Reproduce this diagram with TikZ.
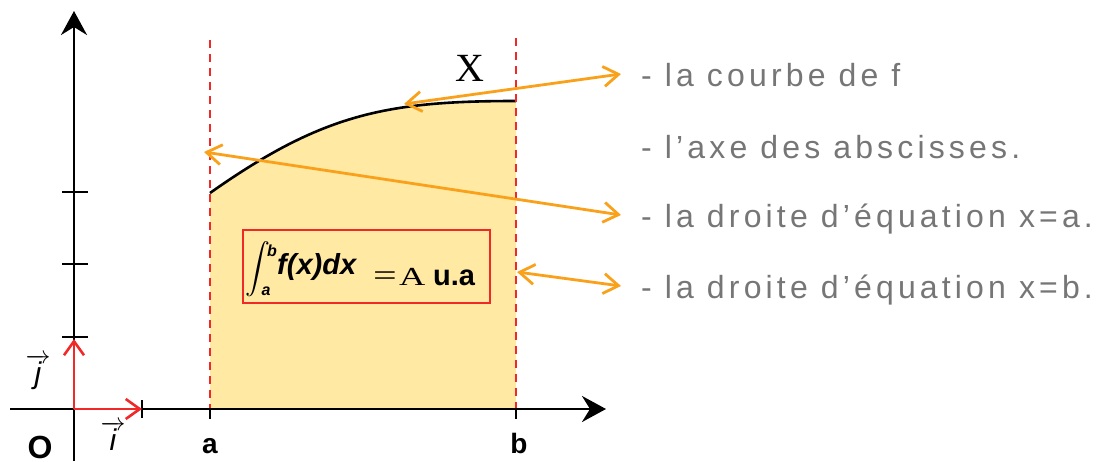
\documentclass[tikz,border=0pt]{standalone}
\usepackage{fontspec}
\usepackage{exscale}
\setmainfont{Liberation Sans}
\newfontfamily\serifA{Liberation Serif}
\newfontfamily\labfont{Liberation Sans}[LetterSpace=13]
\usetikzlibrary{arrows.meta}
\definecolor{orng}{HTML}{F9A11B}
\definecolor{fillY}{HTML}{FFE9A3}
\definecolor{redd}{HTML}{F02828}
\definecolor{txtgray}{HTML}{767676}
\begin{document}
\begin{tikzpicture}[x=1pt,y=-1pt,
  axis/.style={line width=2.6pt, -{Stealth[length=24pt,width=26pt,inset=8pt]}},
  tickline/.style={line width=2.2pt},
  vecarrow/.style={redd, line width=2.6pt, -{Straight Barb[length=14pt,width=20pt]}},
  bound/.style={redd, line width=2.6pt, dash pattern=on 8pt off 6pt},
  oarrow/.style={orng, line width=2.8pt, {Straight Barb[length=15pt,width=20pt]}-{Straight Barb[length=15pt,width=20pt]}},
  lab/.style={anchor=base west, inner sep=0pt, text=txtgray, font=\labfont\fontsize{32}{38}\selectfont},
  axlab/.style={inner sep=0pt, font=\bfseries\fontsize{28}{30}\selectfont},
]
\path[use as bounding box] (0,0) rectangle (1098,461);

% filled area
\fill[fillY] (210,409) -- (210,193) .. controls (322,114) and (386,101) .. (516,101) -- (516,409) -- cycle;
\draw[line width=2.6pt] (210,193) .. controls (322,114) and (386,101) .. (516,101);

% coordinates
\coordinate (O) at (74,409);
\coordinate (ybot) at (74,461);
\coordinate (ytop) at (74,11);
\coordinate (xleft) at (10,409);
\coordinate (xright) at (606,409);
\coordinate (jtip) at (74,339);
\coordinate (itip) at (142,409);
\coordinate (aTop) at (210,40);
\coordinate (aBot) at (210,409);
\coordinate (bTop) at (516,38);
\coordinate (bBot) at (516,409);

% boundaries
\draw[bound] (aTop) -- (aBot);
\draw[bound] (bTop) -- (bBot);

% axes
\draw[axis] (ybot) -- (ytop);
\draw[axis] (xleft) -- (xright);

% ticks
\draw[tickline] (62,192) -- (88,192);
\draw[tickline] (62,264) -- (88,264);
\draw[tickline] (62,337) -- (88,337);
\draw[tickline] (142,400) -- (142,418);
\draw[tickline] (210,409) -- (210,419);
\draw[tickline] (516,409) -- (516,419);

% unit vectors
\draw[vecarrow] (O) -- (jtip);
\draw[vecarrow] (O) -- (itip);

% axis labels
\node[axlab, font=\bfseries\fontsize{32}{34}\selectfont] (lO) at (40,447) {O};
\node[axlab] (la) at (210,446) {a};
\node[axlab] (lb) at (519,443) {b};
\node[inner sep=0pt, font=\fontsize{30}{30}\selectfont] (lj) at (38,372) {$\overrightarrow{\textit{j}}$};
\node[inner sep=0pt, font=\fontsize{30}{30}\selectfont] (li) at (113,436) {$\overrightarrow{\textit{i}}$};

% X
\node[inner sep=0pt, font=\serifA\fontsize{40}{40}\selectfont] (X) at (470,68) {X};

% formula box
\node[draw=redd, line width=2.2pt, minimum width=247pt, minimum height=73pt, anchor=north west, inner sep=0pt] (box) at (242,229) {};
\node[inner sep=0pt, font=\fontsize{26}{26}\selectfont] (int) at (258,269) {$\displaystyle\int$};
\node[inner sep=0pt, font=\bfseries\itshape\fontsize{16}{16}\selectfont] (ib) at (272,251) {b};
\node[inner sep=0pt, font=\bfseries\itshape\fontsize{16}{16}\selectfont] (ia) at (266,291) {a};
\node[anchor=base west, inner sep=0pt, font=\bfseries\itshape\fontsize{29}{30}\selectfont] (fx) at (277,274) {f(x)dx};
\node[inner sep=0pt, font=\serifA\fontsize{30}{30}\selectfont] (eq) at (385,279) {\scalebox{1.4}[1]{=}};
\node[anchor=base west, inner sep=0pt, font=\serifA\fontsize{26}{30}\selectfont] (A) at (399,285) {\scalebox{1.4}[1]{A}};
\node[anchor=base west, inner sep=0pt, font=\bfseries\fontsize{29}{30}\selectfont] (ua) at (433,285) {u.a};

% right texts
\node[lab] (t1) at (641,86) {- la courbe de f};
\node[lab] (t2) at (641,158) {- l’axe des abscisses.};
\node[lab] (t3) at (641,227) {- la droite d’équation x=a.};
\node[lab] (t4) at (641,298) {- la droite d’équation x=b.};

% orange arrows
\coordinate (c1a) at (404,104);
\coordinate (c1b) at (621,74);
\coordinate (c2a) at (204,152);
\coordinate (c2b) at (621,215);
\coordinate (c3a) at (517,272);
\coordinate (c3b) at (621,286);
\draw[oarrow] (c1a) -- (c1b);
\draw[oarrow] (c2a) -- (c2b);
\draw[oarrow] (c3a) -- (c3b);
\end{tikzpicture}
\end{document}
